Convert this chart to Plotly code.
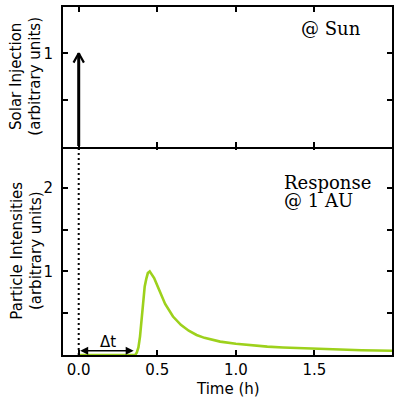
import plotly.graph_objects as go

# ---- data ----
time_h = [0.0, 0.36, 0.37, 0.38, 0.39, 0.40, 0.41, 0.42, 0.43, 0.44, 0.452, 0.46, 0.48,
          0.50, 0.52, 0.55, 0.60, 0.65, 0.70, 0.75, 0.80, 0.85, 0.90, 1.0, 1.1, 1.2,
          1.3, 1.4, 1.5, 1.6, 1.7, 1.8, 1.9, 2.0]
intensity = [0.0, 0.0, 0.03, 0.09, 0.22, 0.42, 0.66, 0.82, 0.91, 0.98, 1.0, 0.98, 0.92,
             0.83, 0.74, 0.61, 0.46, 0.36, 0.29, 0.24, 0.205, 0.18, 0.16, 0.135, 0.115,
             0.10, 0.09, 0.082, 0.075, 0.068, 0.062, 0.057, 0.053, 0.05]
injection_time = 0.0
injection_amp = 1.0
delay_dt = 0.35

x_tickvals = [0.0, 0.5, 1.0, 1.5]
x_ticktext = ["0.0", "0.5", "1.0", "1.5"]
top_tickvals = [0.5, 1.0]
top_ticktext = ["", "1"]
bot_tickvals = [0.5, 1.0, 1.5, 2.0]
bot_ticktext = ["", "1", "", "2"]

GREEN = "#9dd11c"
SANS = "DejaVu Sans"
SERIF = "DejaVu Serif"
LW = 1.8
split = 209 / 348
ov = (LW / 2) / 348

fig = go.Figure()

# particle response (bottom panel)
fig.add_trace(go.Scatter(x=time_h, y=intensity, mode="lines",
                         line=dict(color=GREEN, width=2.6),
                         xaxis="x", yaxis="y", cliponaxis=False, hoverinfo="skip"))

# solar injection arrow (top panel)
fig.add_trace(go.Scatter(x=[injection_time, injection_time], y=[0, injection_amp],
                         mode="lines", line=dict(color="black", width=3),
                         xaxis="x2", yaxis="y2", cliponaxis=False, hoverinfo="skip"))
hx, hy = 0.033, 0.1
fig.add_trace(go.Scatter(x=[injection_time - hx, injection_time, injection_time + hx],
                         y=[injection_amp - hy, injection_amp, injection_amp - hy],
                         mode="lines", line=dict(color="black", width=2.2),
                         xaxis="x2", yaxis="y2", cliponaxis=False, hoverinfo="skip"))

# dotted line at injection time in bottom panel
fig.add_shape(type="line", xref="x", yref="y", x0=injection_time, x1=injection_time,
              y0=0, y1=2.5, line=dict(color="black", width=2, dash="2px,3px"))

axis_common = dict(showline=True, linecolor="black", linewidth=LW, mirror="ticks",
                   ticks="inside", ticklen=5, tickwidth=1.5, tickcolor="black",
                   showgrid=False, zeroline=False,
                   tickfont=dict(family=SANS, size=15, color="black"))

fig.update_layout(
    width=394, height=398,
    margin=dict(l=63, r=0, t=7, b=43),
    paper_bgcolor="white", plot_bgcolor="white",
    showlegend=False,
    xaxis=dict(range=[-0.1, 1.9937], domain=[0, 1], anchor="y",
               tickvals=x_tickvals, ticktext=x_ticktext, ticklabelstandoff=0,
               **axis_common),
    yaxis=dict(range=[0, 2.5 * (split + ov) / split], domain=[0, split + ov], anchor="x",
               tickvals=bot_tickvals, ticktext=bot_ticktext, ticklabelstandoff=5,
               **axis_common),
    xaxis2=dict(range=[-0.1, 1.9937], domain=[0, 1], anchor="y2", matches="x",
                tickvals=x_tickvals, showticklabels=False, **axis_common),
    yaxis2=dict(range=[-1.5 * ov / (1 - split), 1.5], domain=[split - ov, 1], anchor="x2",
                tickvals=top_tickvals, ticktext=top_ticktext, ticklabelstandoff=5,
                **axis_common),
)

ann = []
# axis titles
ann.append(dict(text="Solar Injection<br>(arbitrary units)", xref="paper", yref="paper",
                x=-0.112, y=(split + 1) / 2, textangle=-90, showarrow=False,
                xanchor="center", yanchor="middle",
                font=dict(family=SANS, size=15, color="black")))
ann.append(dict(text="Particle Intensities<br>(arbitrary units)", xref="paper", yref="paper",
                x=-0.112, y=split / 2, textangle=-90, showarrow=False,
                xanchor="center", yanchor="middle",
                font=dict(family=SANS, size=15, color="black")))
ann.append(dict(text="Time (h)", xref="paper", yref="paper", x=0.5, y=-0.098,
                showarrow=False, xanchor="center", yanchor="middle",
                font=dict(family=SANS, size=15, color="black")))
# panel labels
ann.append(dict(text="@ Sun", xref="paper", yref="paper", x=(300 - 63) / 331,
                y=(355 - 29) / 348, showarrow=False, xanchor="left", yanchor="middle",
                font=dict(family=SERIF, size=18, color="black")))
ann.append(dict(text="Response", xref="paper", yref="paper", x=(283 - 63) / 331,
                y=(355 - 182.5) / 348, showarrow=False, xanchor="left", yanchor="middle",
                font=dict(family=SERIF, size=18, color="black")))
ann.append(dict(text="@ 1 AU", xref="paper", yref="paper", x=(283 - 63) / 331,
                y=(355 - 200.5) / 348, showarrow=False, xanchor="left", yanchor="middle",
                font=dict(family=SERIF, size=18, color="black")))
# delta t double arrow
ann.append(dict(text="", x=delay_dt, y=0.05, ax=injection_time, ay=0.05,
                xref="x", yref="y", axref="x", ayref="y", showarrow=True,
                arrowhead=2, startarrowhead=2, arrowside="end+start",
                arrowsize=1.0, startarrowsize=1.0, arrowwidth=1.6, arrowcolor="black",
                standoff=0, startstandoff=0))
ann.append(dict(text="Δt", x=(injection_time + delay_dt) / 2 + 0.01, y=0.155,
                xref="x", yref="y", showarrow=False, xanchor="center", yanchor="middle",
                font=dict(family=SANS, size=15, color="black")))
fig.update_layout(annotations=ann)

fig.write_html("out.html", config={"displayModeBar": False},
               post_script="document.body.style.margin='0';document.body.style.overflow='hidden';")
